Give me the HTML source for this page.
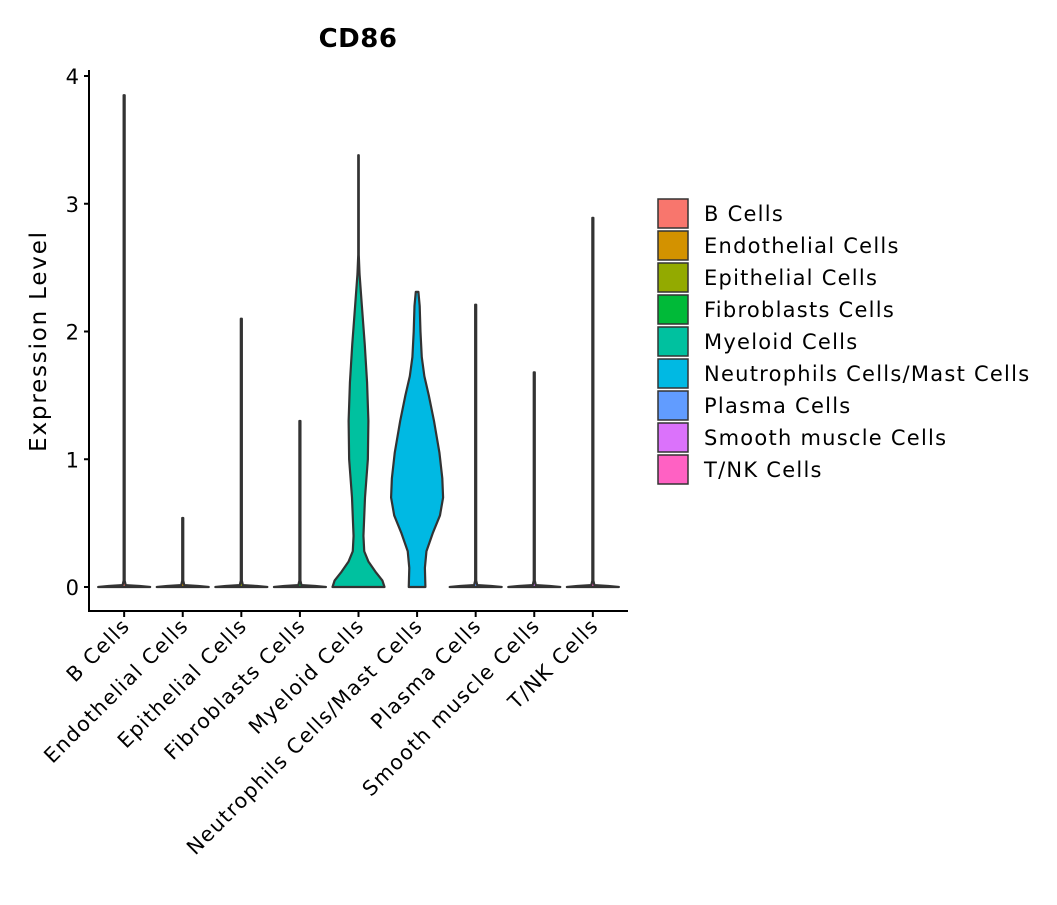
<!DOCTYPE html>
<html><head><meta charset="utf-8"><style>
body{margin:0;background:#fff;}
svg text{font-family:"DejaVu Sans","Liberation Sans",sans-serif;fill:#000;}
</style></head><body>
<svg id="chart" width="1057" height="900" viewBox="0 0 1057 900" xmlns="http://www.w3.org/2000/svg">
<text x="358" y="47" font-size="26" font-weight="bold" text-anchor="middle" letter-spacing="0.5">CD86</text>
<text transform="translate(46,341) rotate(-90)" font-size="23" letter-spacing="1.8" text-anchor="middle">Expression Level</text>
<g id="violins"></g>
<g id="axes"></g>
<g id="legend"></g>
</svg>
<script>
const categories = ["B Cells","Endothelial Cells","Epithelial Cells","Fibroblasts Cells","Myeloid Cells","Neutrophils Cells/Mast Cells","Plasma Cells","Smooth muscle Cells","T/NK Cells"];
const colors = ["#F8766D","#D39200","#93AA00","#00BA38","#00C19F","#00B9E3","#619CFF","#DB72FB","#FF61C3"];
const maxValues = [3.85,0.54,2.1,1.3,3.38,2.31,2.21,1.68,2.89];
// density profiles: [value, relative half-width (1 = full)]
const profileMyeloid = [[0,1],[0.05,0.92],[0.12,0.65],[0.2,0.38],[0.28,0.22],[0.4,0.19],[0.7,0.25],[1.0,0.36],[1.3,0.38],[1.6,0.33],[1.9,0.24],[2.2,0.13],[2.45,0.04],[2.6,0.01],[3.38,0.01]];
const profileNeutro = [[0,0.32],[0.15,0.3],[0.28,0.36],[0.42,0.6],[0.56,0.88],[0.7,1.0],[0.85,0.97],[1.05,0.86],[1.3,0.65],[1.5,0.45],[1.65,0.28],[1.8,0.18],[2.0,0.13],[2.2,0.1],[2.31,0.05]];
const yTicks = [0,1,2,3,4];

const NS="http://www.w3.org/2000/svg";
const L=89,R=628,B=611,T=70;
const step=(R-L)/(categories.length-1+1.2);
function xScale(i){return L+0.6*step+i*step;}
function yScale(v){return 587-v*127.75;}
const HW=26;
function mk(t,a,p){const e=document.createElementNS(NS,t);for(const k in a)e.setAttribute(k,a[k]);p.appendChild(e);return e;}

const vg=document.getElementById('violins');
categories.forEach((c,i)=>{
  let prof;
  if(i===4)prof=profileMyeloid;else if(i===5)prof=profileNeutro;
  else prof=[[0,1],[0.008,0.6],[0.015,0.06],[0.05,0.02],[maxValues[i],0.02]];
  prof=prof.slice();prof[prof.length-1]=[maxValues[i],prof[prof.length-1][1]];
  const cx=xScale(i);
  let d="M"+(cx-prof[0][1]*HW)+","+yScale(0);
  prof.forEach(p=>{d+=" L"+(cx-p[1]*HW)+","+yScale(p[0]);});
  for(let k=prof.length-1;k>=0;k--){const p=prof[k];d+=" L"+(cx+p[1]*HW)+","+yScale(p[0]);}
  d+="Z";
  const el=mk('path',{d:d,fill:colors[i],stroke:'#333','stroke-width':2.2,'stroke-linejoin':'round'},vg);
  
  
});

const ag=document.getElementById('axes');
mk('path',{d:`M${L},${T} L${L},${B} L${R},${B}`,fill:'none',stroke:'#000','stroke-width':2},ag);
yTicks.forEach(t=>{
  const y=yScale(t);
  mk('line',{x1:L-5,x2:L,y1:y,y2:y,stroke:'#000','stroke-width':2},ag);
  const tx=mk('text',{x:L-10,y:y+8,'font-size':21,'text-anchor':'end'},ag);tx.textContent=t;
  
  
});
categories.forEach((c,i)=>{
  const x=xScale(i);
  mk('line',{x1:x,x2:x,y1:B,y2:B+6,stroke:'#000','stroke-width':2},ag);
  const tx=mk('text',{transform:`translate(${x+7},${B+16}) rotate(-45)`,'font-size':20.5,'letter-spacing':1.4,'text-anchor':'end'},ag);
  tx.textContent=c;
  
  
});

const lg=document.getElementById('legend');
categories.forEach((c,i)=>{
  const y=199+i*32;
  const r=mk('rect',{x:658,y:y,width:30,height:29,fill:colors[i],stroke:'#333','stroke-width':1.5},lg);
  
  
  const tx=mk('text',{x:704,y:y+22,'font-size':21,'letter-spacing':1.25},lg);tx.textContent=c;
  
  
});
</script>
</body></html>
